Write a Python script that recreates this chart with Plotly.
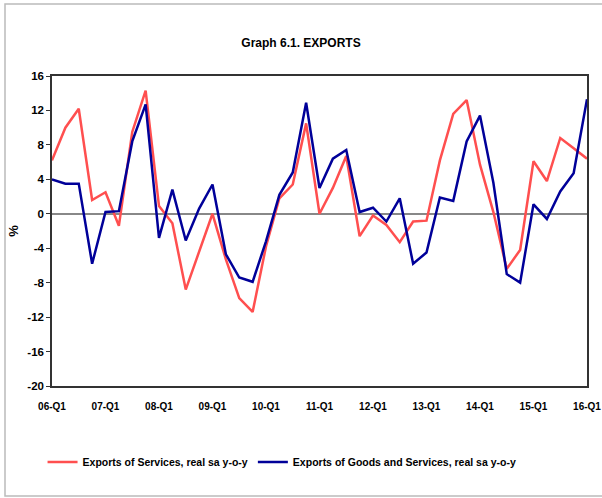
import plotly.graph_objects as go

# quarterly categories 06-Q1 .. 16-Q1
quarters = [f'{y:02d}-Q{q}' for y in range(6, 17) for q in range(1, 5)][:41]
tick_labels = [f'{y:02d}-Q1' for y in range(6, 17)]

services = [6.2, 10.0, 12.2, 1.6, 2.5, -1.4, 9.5, 14.3, 0.9, -1.1,
            -8.8, -4.4, 0.0, -5.3, -9.8, -11.4, -3.8, 1.8, 3.4, 10.5,
            0.0, 3.0, 6.7, -2.6, -0.2, -1.3, -3.3, -0.9, -0.8, 6.2,
            11.6, 13.2, 5.7, 0.2, -6.4, -4.2, 6.1, 3.8, 8.8, 7.6,
            6.4]
goods_services = [4.0, 3.5, 3.5, -5.8, 0.2, 0.3, 8.4, 12.7, -2.8, 2.8,
                  -3.1, 0.6, 3.4, -4.7, -7.4, -7.9, -3.2, 2.2, 4.8, 12.9,
                  3.0, 6.4, 7.4, 0.2, 0.7, -0.9, 1.8, -5.8, -4.5, 1.9,
                  1.5, 8.4, 11.4, 3.6, -7.0, -8.0, 1.1, -0.6, 2.6, 4.7,
                  13.3]

FONT = 'Liberation Sans Narrow, Arial Narrow, Liberation Sans, sans-serif'

fig = go.Figure()
fig.add_trace(go.Scatter(
    x=quarters, y=services, mode='lines',
    name='<b>Exports of Services, real sa y-o-y</b>',
    line=dict(color='#FF4F4F', width=2.5)
))
fig.add_trace(go.Scatter(
    x=quarters, y=goods_services, mode='lines',
    name='<b>Exports of Goods and Services, real sa y-o-y</b>',
    line=dict(color='#000099', width=2.5)
))

fig.update_layout(
    width=602, height=498,
    paper_bgcolor='white', plot_bgcolor='white',
    font=dict(family=FONT, size=11, color='black'),
    title=dict(text='<b>Graph 6.1. EXPORTS</b>', x=0.5, xanchor='center',
               y=1 - 43 / 498, yanchor='middle', font=dict(size=12)),
    margin=dict(l=52, r=15, t=76, b=112),
    showlegend=True,
    legend=dict(orientation='h', x=0.43, xanchor='center', y=-0.245, yanchor='middle',
                font=dict(size=10.5), itemwidth=30, tracegroupgap=0),
    xaxis=dict(
        type='category', tickmode='array', tickvals=tick_labels,
        ticktext=[f'<b>{t}</b>' for t in tick_labels],
        showline=True, linecolor='#333', linewidth=1.5, mirror=True,
        showgrid=False, ticks='', ticklabelstandoff=10, tickangle=0,
        automargin=False, tickfont=dict(size=10), ticklabeloverflow='allow'
    ),
    yaxis=dict(
        range=[-20, 16], tickvals=list(range(-20, 17, 4)),
        ticktext=[f'<b>{v}</b>' for v in range(-20, 17, 4)],
        showline=True, linecolor='#333', linewidth=1.5, mirror=True,
        showgrid=False, ticks='outside', ticklen=4, tickcolor='#333',
        zeroline=True, zerolinecolor='#888', zerolinewidth=1.5,
        title=dict(text='<b>%</b>', standoff=6), automargin=False,
        tickfont=dict(size=11.5)
    ),
    # light frame round the whole chart
    shapes=[dict(type='rect', xref='paper', yref='paper',
                 x0=-47 / 535, x1=620 / 535, y0=-110 / 310, y1=382 / 310,
                 line=dict(color='#BBBBBB', width=1.5), layer='below')]
)

# drop the default page margin and scrollbars so the 602x498 figure fills the window
fig.write_html('out.html', config={'displayModeBar': False},
               post_script="document.body.style.margin='0px';"
                           "document.body.style.overflow='hidden';"
                           "document.documentElement.style.overflow='hidden';")
